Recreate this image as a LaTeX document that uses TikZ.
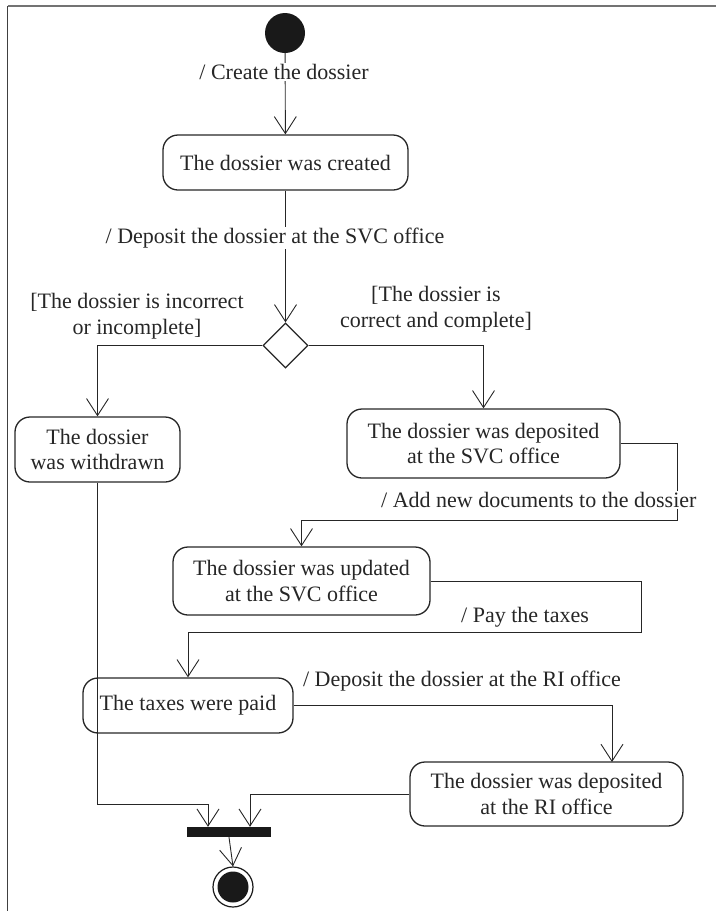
\documentclass[tikz,border=0pt]{standalone}
\usepackage{fontspec}
\setmainfont{Liberation Serif}
\usetikzlibrary{arrows.meta,shapes.geometric,calc}
\begin{document}
\begin{tikzpicture}[x=1pt,y=-1pt,
  every node/.style={font=\fontsize{22}{25.5}\selectfont, text=black!85},
  state/.style={draw=black!85, line width=1.3pt, rounded corners=15pt, align=center, inner sep=2pt},
  arr/.style={draw=black!85, line width=0.9pt, -{Straight Barb[length=17pt,width=22pt,line width=0.9pt]}},
  lbl/.style={fill=white, inner sep=1pt, align=center},
  guard/.style={inner sep=1pt, align=center}]
\useasboundingbox (0,0) rectangle (716,911);
% frame
\draw[black!55, line width=1.4pt] (7.5,6) -- (716,6);
\draw[black!75, line width=1.2pt] (7.5,6) -- (7.5,911);
% nodes
\node[circle, fill=black!90, minimum size=40pt, inner sep=0pt] (init) at (285,33) {};
\node[state, minimum width=245pt, minimum height=55pt] (created) at (285.5,162.5) {The dossier was created};
\node[diamond, draw=black!85, line width=1.2pt, minimum width=45pt, minimum height=45pt, inner sep=0pt] (dec) at (285.5,345.5) {};
\node[state, minimum width=165pt, minimum height=65pt] (withdrawn) at (97.5,449.5) {The dossier\\was withdrawn};
\node[state, minimum width=273pt, minimum height=69pt] (depsvc) at (483.5,443.5) {The dossier was deposited\\at the SVC office};
\node[state, minimum width=257pt, minimum height=68pt] (updated) at (301.5,581) {The dossier was updated\\at the SVC office};
\node[state, minimum width=210pt, minimum height=55pt] (taxes) at (188,705.5) {The taxes were paid};
\node[state, minimum width=273pt, minimum height=64pt] (ri) at (546.5,794) {The dossier was deposited\\at the RI office};
\node[rectangle, fill=black!90, minimum width=84pt, minimum height=10pt, inner sep=0pt] (bar) at (229,832) {};
\node[circle, draw=black!90, line width=1.2pt, fill=white, minimum size=40pt, inner sep=0pt] (final) at (233,887) {};
\node[circle, fill=black!90, minimum size=31pt, inner sep=0pt] (finalin) at (final.center) {};
% bend coordinates
\coordinate (c1) at (677,520);
\coordinate (c2) at (641,632);
\coordinate (c3) at (208,804);
\coordinate (c4) at (250,794);
\coordinate (riin) at (612,762);
% connectors
\draw[arr] (init) -- (created);
\draw[arr] (created) -- (dec);
\draw[arr] (dec.west) -| (withdrawn.north);
\draw[arr] (dec.east) -| (depsvc.north);
\draw[arr] (depsvc.east) -| (c1) -| (updated.north);
\draw[arr] (updated.east) -| (c2) -| (taxes.north);
\draw[arr] (taxes.east) -| (riin);
\draw[arr] (withdrawn.south) |- (c3) -- (c3 |- bar.north);
\draw[arr] (ri.west) -- (c4) -- (c4 |- bar.north);
\draw[arr] (bar.south) -- (final.north);
% labels
\node[lbl] (l1) at (284,72) {/ Create the dossier};
\node[lbl] (l2) at (275,238) {/ Deposit the dossier at the SVC office};
\node[guard] (g1) at (137,316) {[The dossier is incorrect\\or incomplete]};
\node[guard] (g2) at (436,309) {[The dossier is\\correct and complete]};
\node[lbl, anchor=west] (l3) at (380,500) {/ Add new documents to the dossier};
\node[lbl] (l4) at (525,617) {/ Pay the taxes};
\node[lbl] (l5) at (462,681) {/ Deposit the dossier at the RI office};
\end{tikzpicture}
\end{document}
